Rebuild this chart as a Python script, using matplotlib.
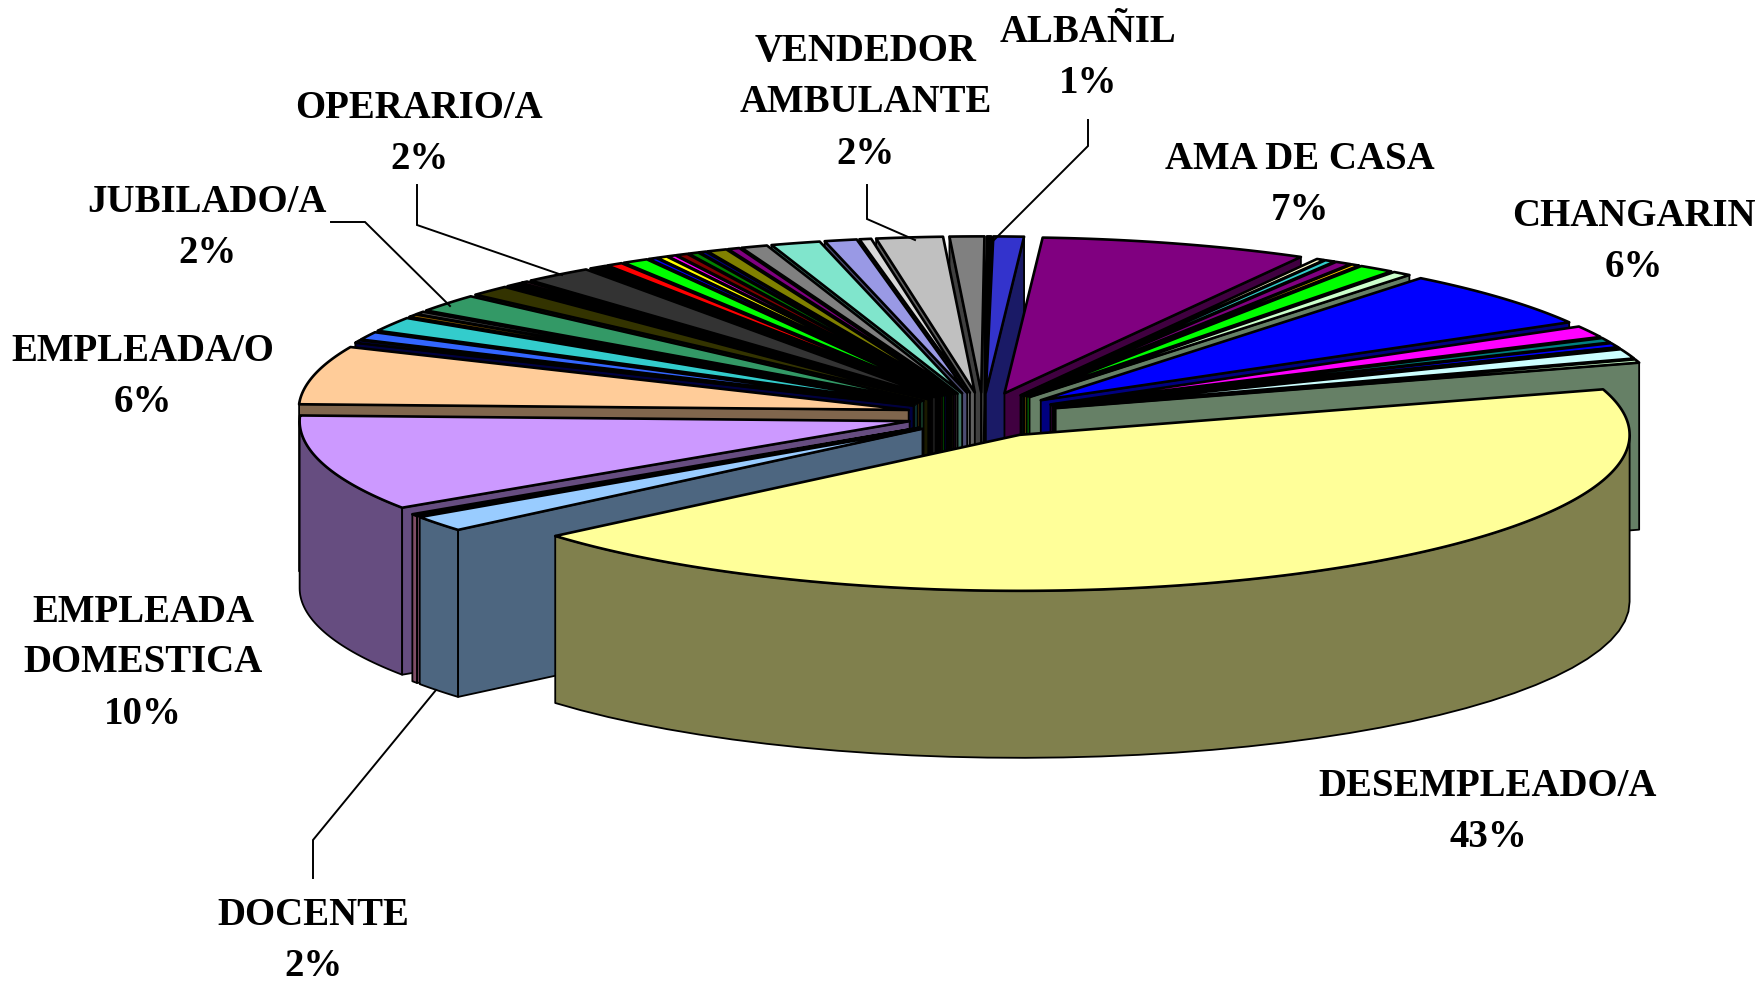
# 3D exploded pie of occupations, drawn back to front
import numpy as np
import matplotlib
matplotlib.use('Agg')
import matplotlib.pyplot as plt
from matplotlib.colors import to_rgb

# percent per slice, clockwise from the top
values = [0.8, 7.05, 0.22, 0.28, 0.44, 0.22, 0.95, 0.5, 5.95, 1.2, 0.5, 0.45, 0.1, 1.0, 0.35,
          43.3, 1.64, 0.22, 9.9, 6.0, 0.28, 0.83, 1.5, 0.3, 0.3, 1.85, 1.1, 0.45, 0.2, 1.83,
          0.47, 0.44, 0.69, 0.22, 0.28, 0.22, 0.31, 0.28, 0.19, 0.53, 0.31, 0.7, 1.3, 0.85, 0.31,
          1.75, 0.91, 0.11]
colors = ['#3333CC', '#800080', '#FFFFCC', '#33CCCC', '#800080', '#FFCC00', '#00FF00', '#CCFFCC',
          '#0000FF', '#FF00FF', '#008080', '#0000FF', '#000000', '#CCFFFF', '#CCFFCC',
          '#FFFF99', '#99CCFF', '#FF99CC', '#CC99FF', '#FFCC99', '#000080', '#3366FF', '#33CCCC',
          '#996600', '#555555', '#339966', '#333300', '#000000', '#993366', '#333333',
          '#000000', '#FF0000', '#00FF00', '#0000FF', '#FFFF00', '#FF00FF', '#800000', '#008000',
          '#000080', '#808000', '#800080', '#808080', '#80E5CC', '#9999E5', '#D9D9D9',
          '#C0C0C0', '#808080', '#000000']
labels = ['ALBAÑIL\n1%', 'VENDEDOR\nAMBULANTE\n2%', 'AMA DE CASA\n7%', 'CHANGARIN\n6%', 'OPERARIO/A\n2%',
          'JUBILADO/A\n2%', 'EMPLEADA/O\n6%', 'EMPLEADA\nDOMESTICA\n10%', 'DOCENTE\n2%', 'DESEMPLEADO/A\n43%']

# layout in pixels
label_pos = [(1088, 58), (866, 103), (1300, 185), (1634, 242), (419, 134),
             (207, 228), (143, 377), (143, 663), (313, 941), (1488, 812)]
leaders = [([1088, 1088, 994], [120, 146, 240]),
           ([867, 867, 915], [185, 219, 240]),
           ([417, 417, 562], [185, 225, 275]),
           ([331, 365, 450], [222, 222, 306]),
           ([313, 313, 436], [878, 840, 690])]
cx, cy = 983, 415
rx, ry = 610, 156
explode_x = 0.125
explode_y = 0.145
depth = 167
start = 89.3

fig = plt.figure(figsize=(17.61, 9.84), dpi=100)
ax = fig.add_axes([0, 0, 1, 1])
ax.set_xlim(0, 1761)
ax.set_ylim(984, 0)
ax.axis('off')

sweep = np.array(values) / sum(values) * 360
ends = np.cumsum(sweep)
slices = []
for i in range(len(values)):
    a = start - (ends[i] - sweep[i])
    b = start - ends[i]
    slices.append((a, b, colors[i]))
# back slices first, the ones nearest the viewer on top
slices.sort(key=lambda s: -np.sin(np.radians((s[0] + s[1]) / 2)))


def rim(x0, y0, t):
    t = np.radians(t)
    return x0 + rx * np.cos(t), y0 - ry * np.sin(t)


lw = 1.9
for a, b, col in slices:
    mid = np.radians((a + b) / 2)
    x0 = cx + explode_x * rx * np.cos(mid)
    y0 = cy - explode_y * ry * np.sin(mid)
    wall = tuple(0.5 * c for c in to_rgb(col))
    # outer wall, only the part facing us
    t0, t1 = max(b, -180), min(a, 0)
    if t1 > t0:
        t = np.linspace(t0, t1, 40)
        xs, ys = rim(x0, y0, t)
        ax.fill(np.r_[xs, xs[::-1]], np.r_[ys, ys[::-1] + depth], fc=wall, ec='k', lw=1.3, joinstyle='round')
    # cut faces
    for edge, side in [(a, 90), (b, -90)]:
        if np.sin(np.radians(edge + side)) < 0:
            xe, ye = rim(x0, y0, edge)
            ax.fill([x0, xe, xe, x0], [y0, ye, ye + depth, y0 + depth], fc=wall, ec='k', lw=1.3, joinstyle='round')
    t = np.linspace(a, b, max(3, int(a - b) * 2))
    xs, ys = rim(x0, y0, t)
    ax.fill(np.r_[x0, xs], np.r_[y0, ys], fc=col, ec='k', lw=lw, joinstyle='round')

for xs, ys in leaders:
    ax.plot(xs, ys, color='k', lw=1.4, solid_joinstyle='miter')

for txt, (x, y) in zip(labels, label_pos):
    ax.text(x, y, txt, ha='center', va='center', family='Liberation Serif', weight='bold',
            fontsize=28, linespacing=1.5, color='k')

fig.savefig('out.png', dpi=100)
